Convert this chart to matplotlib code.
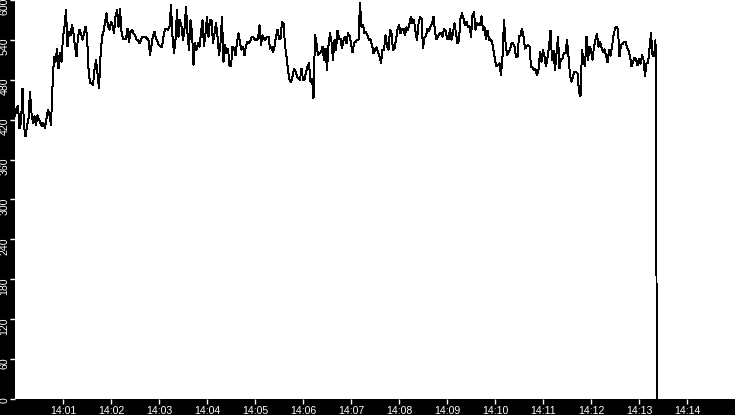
import numpy as np
import pandas as pd
import matplotlib
matplotlib.use("Agg")
import matplotlib.pyplot as plt
import matplotlib.transforms as mtransforms

# values, one every 1.875 s starting 14:00:00
seg_a = [425, 437, 440, 407, 415, 467, 410, 395, 410, 422,
         462, 430, 415, 425, 412, 427, 420, 415, 410, 415,
         407, 422, 435, 427, 412, 470, 515, 507, 527, 497,
         520, 507, 545, 560, 585, 530, 552, 547, 562, 550,
         530, 515, 545, 555, 550, 540, 550, 560, 547, 497,
         475, 475, 472, 495, 510, 490, 467, 515, 545, 552,
         567, 580, 560, 555, 567, 562, 550, 575, 585]
seg_b = [560, 587, 552, 542, 542, 542, 557, 537, 552, 555,
         550, 547, 540, 540, 535, 540, 545, 545, 545, 542,
         540, 517, 532, 547, 552, 542, 537, 532, 530, 530,
         545, 557, 557, 555, 560, 592, 545, 520, 540, 585,
         545, 570, 560, 540, 557, 590, 550, 525, 570, 552,
         502, 535, 525, 535, 530, 550, 570, 530]
seg_c = [550, 575, 545, 570, 570, 535, 550, 565, 545, 517,
         535, 575, 507, 532, 520, 527, 502, 500, 530, 527,
         517, 537, 550, 535, 525, 530, 517, 532, 537, 535,
         539, 545, 544, 540, 540, 542, 562, 532, 547, 542,
         540, 545, 545, 527, 530, 522, 530, 545, 555, 542,
         542, 567, 565, 532, 515, 495, 480, 477, 485, 497]
seg_d = [492, 485, 482, 480, 497, 480, 480, 492, 500, 505,
         477, 482, 452, 547, 535, 517, 520, 522, 530, 510,
         527, 495, 532, 550, 537, 510, 540, 525, 554, 542,
         542, 527, 539, 545, 535, 550, 546, 535, 521, 535,
         537, 540, 540, 595, 560, 562, 550, 552, 546, 540,
         541, 532, 520, 525, 529, 522, 515, 505, 525, 525]
seg_e = [547, 530, 525, 555, 550, 525, 527, 540, 555, 562,
         550, 557, 557, 547, 559, 555, 565, 575, 565, 570,
         552, 540, 564, 575, 572, 527, 544, 546, 557, 554,
         560, 565, 575, 552, 541, 545, 550, 550, 545, 557,
         554, 542, 541, 557, 540, 550, 565, 550, 535, 540,
         572, 580, 572, 562, 567, 560, 561, 545, 577, 582]
seg_f = [555, 565, 564, 562, 576, 555, 559, 541, 554, 540,
         541, 537, 524, 510, 500, 502, 505, 487, 515, 570,
         537, 517, 521, 525, 535, 535, 530, 515, 515, 545,
         547, 557, 545, 527, 530, 532, 530, 500, 499, 495,
         496, 487, 495, 522, 507, 525, 515, 500, 514, 530,
         554, 510, 524, 495, 519, 545, 497, 512, 512, 520]
seg_g = [520, 540, 515, 487, 477, 485, 492, 492, 490, 462,
         455, 525, 510, 500, 545, 510, 530, 525, 510, 530,
         541, 549, 530, 537, 529, 522, 526, 517, 506, 525,
         516, 530, 546, 557, 560, 555, 515, 532, 534, 537,
         537, 528, 524, 515, 500, 506, 513, 511, 502, 512,
         504, 517, 510, 485, 505, 505, 527, 550, 517, 515,
         540]
# the drop at the end of the run (seconds after 14:00)
tail_sec = [801.5, 802.5]
tail_val = [270, 0]

regular = seg_a + seg_b + seg_c + seg_d + seg_e + seg_f + seg_g
start = pd.Timestamp("2024-01-01 14:00:00")
times = list(pd.date_range(start, periods=len(regular), freq="1875ms"))
times += [start + pd.Timedelta(seconds=s) for s in tail_sec]
values = regular + tail_val

tick_labels = ["14:%02d" % m for m in range(1, 15)]
y_ticks = list(range(0, 601, 60))

plt.rcParams['font.family'] = ['Liberation Sans', 'DejaVu Sans']

fig = plt.figure(figsize=(7.35, 4.15), dpi=100, facecolor="black")
ax = fig.add_axes([15 / 735, 16 / 415, 720 / 735, 399 / 415])
ax.set_facecolor("white")
ax.plot(times, values, color="black", lw=0.7, antialiased=False)

ax.set_xlim(start, start + pd.Timedelta(minutes=15))
ax.set_ylim(0, 600)
ax.set_xticks([start + pd.Timedelta(minutes=m) for m in range(1, 15)])
ax.set_xticklabels(tick_labels)
ax.set_yticks(y_ticks)
ax.set_yticklabels([str(v) for v in y_ticks])

for s in ax.spines.values():
    s.set_visible(False)
ax.tick_params(axis="both", colors="white", labelcolor="white",
               length=3.6, width=1, labelsize=7.6, direction="out")
ax.tick_params(axis="x", pad=1.2)
ax.tick_params(axis="y", pad=0.5)

shift = mtransforms.ScaledTranslation(0, 2 / 100, fig.dpi_scale_trans)
for lab in ax.get_yticklabels():
    lab.set_rotation(90)
    lab.set_va("top")
    lab.set_transform(lab.get_transform() + shift)

fig.savefig("out.png", dpi=100, facecolor="black")
